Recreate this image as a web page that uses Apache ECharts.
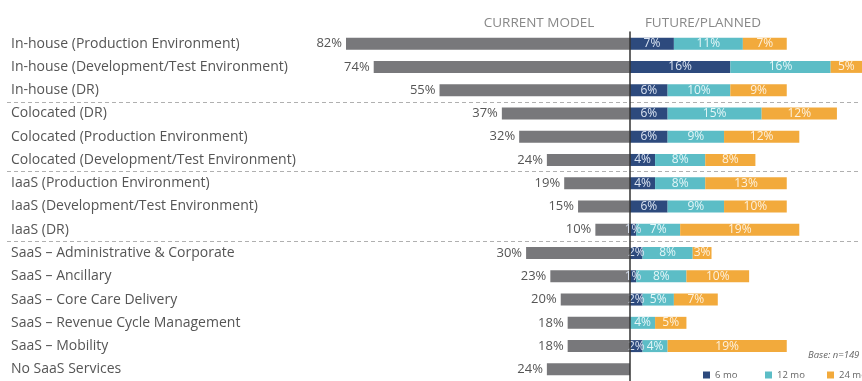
<!DOCTYPE html>
<html>
<head>
<meta charset="utf-8">
<script src="https://cdn.jsdelivr.net/npm/echarts@6/dist/echarts.min.js"></script>
<style>
  html, body { margin: 0; padding: 0; background: #fff; }
  #chart { width: 862px; height: 381px; }
</style>
</head>
<body>
<div id="chart"></div>
<script>
// Hosting models: current share vs. planned adoption horizon
const categories = [
  'In-house (Production Environment)',
  'In-house (Development/Test Environment)',
  'In-house (DR)',
  'Colocated (DR)',
  'Colocated (Production Environment)',
  'Colocated (Development/Test Environment)',
  'IaaS (Production Environment)',
  'IaaS (Development/Test Environment)',
  'IaaS (DR)',
  'SaaS \u2013 Administrative & Corporate',
  'SaaS \u2013 Ancillary',
  'SaaS \u2013 Core Care Delivery',
  'SaaS \u2013 Revenue Cycle Management',
  'SaaS \u2013 Mobility',
  'No SaaS Services'
];
const currentModel = [82, 74, 55, 37, 32, 24, 19, 15, 10, 30, 23, 20, 18, 18, 24];
const plan6mo  = [7, 16, 6, 6, 6, 4, 4, 6, 1, 2, 1, 2, 0, 2, 0];
const plan12mo = [11, 16, 10, 15, 9, 8, 8, 9, 7, 8, 8, 5, 4, 4, 0];
const plan24mo = [7, 5, 9, 12, 12, 8, 13, 10, 19, 3, 10, 7, 5, 19, 0];
const seriesNames = ['6 mo', '12 mo', '24 mo'];
const groupBreaks = [3, 6, 9];

const FONT = 'Open Sans';
const chart = echarts.init(document.getElementById('chart'), null, { renderer: 'canvas' });

function segLabel(color) {
  return {
    show: true,
    position: 'inside',
    color: color,
    fontFamily: FONT,
    fontSize: 12,
    formatter: p => (p.value ? p.value + '%' : '')
  };
}

// one legend block per horizon, evenly spaced along the bottom right
const legendLefts = [698, 760, 822];
const legends = seriesNames.map((name, i) => ({
  data: [name],
  left: legendLefts[i],
  top: 365,
  icon: 'rect',
  itemWidth: 7,
  itemHeight: 7,
  textStyle: { fontFamily: FONT, fontSize: 9.5, color: '#666' }
}));

const option = {
  animation: false,
  backgroundColor: '#fff',
  title: [
    { text: 'CURRENT MODEL', left: 534, top: 11, textAlign: 'center',
      textStyle: { fontFamily: FONT, fontSize: 13.5, fontWeight: 'normal', color: '#888' } },
    { text: 'FUTURE/PLANNED', left: 698, top: 11, textAlign: 'center',
      textStyle: { fontFamily: FONT, fontSize: 13.5, fontWeight: 'normal', color: '#888' } },
    { text: 'Base: n=149', left: 803, top: 345,
      textStyle: { fontFamily: FONT, fontSize: 9.5, fontStyle: 'italic', fontWeight: 'normal', color: '#666' } }
  ],
  legend: legends,
  grid: [
    { left: 7, right: 4, top: 32, bottom: 0 },
    { left: 346, width: 284, top: 32, bottom: 0 },
    { left: 630, right: 0, top: 32, bottom: 0 }
  ],
  xAxis: [
    { gridIndex: 0, type: 'value', min: 0, max: 1, show: false },
    { gridIndex: 1, type: 'value', min: 0, max: 82, inverse: true, show: false },
    { gridIndex: 2, type: 'value', min: 0, max: 37, show: false }
  ],
  yAxis: [
    {
      gridIndex: 0, type: 'category', data: categories, inverse: true,
      axisLine: { show: false }, axisTick: { show: false },
      axisLabel: { inside: true, margin: 4, fontFamily: FONT, fontSize: 14, color: '#555' },
      splitLine: {
        show: true,
        interval: (i) => groupBreaks.indexOf(i) !== -1,
        lineStyle: { type: [4, 3], color: '#b0b0b0', width: 1 }
      }
    },
    { gridIndex: 1, type: 'category', data: categories, inverse: true, show: false },
    {
      gridIndex: 2, type: 'category', data: categories, inverse: true, z: 5,
      axisLine: { show: true, lineStyle: { color: '#333', width: 1.5 } },
      axisTick: { show: false }, axisLabel: { show: false }, splitLine: { show: false }
    }
  ],
  series: [
    {
      name: 'Current model', type: 'bar', xAxisIndex: 1, yAxisIndex: 1,
      data: currentModel, barWidth: 12,
      itemStyle: { color: '#78787b' },
      label: { show: true, position: 'left', distance: 4, fontFamily: FONT, fontSize: 13, color: '#555',
               formatter: p => p.value + '%' }
    },
    {
      name: seriesNames[0], type: 'bar', stack: 'plan', xAxisIndex: 2, yAxisIndex: 2,
      data: plan6mo, barWidth: 12,
      itemStyle: { color: '#2d4a7d' }, label: segLabel('#dbe4f2')
    },
    {
      name: seriesNames[1], type: 'bar', stack: 'plan', xAxisIndex: 2, yAxisIndex: 2,
      data: plan12mo, barWidth: 12,
      itemStyle: { color: '#5cbdc6' }, label: segLabel('#e4f6f8')
    },
    {
      name: seriesNames[2], type: 'bar', stack: 'plan', xAxisIndex: 2, yAxisIndex: 2,
      data: plan24mo, barWidth: 12,
      itemStyle: { color: '#f2aa3c' }, label: segLabel('#fdf1de')
    }
  ]
};
chart.setOption(option);
</script>
</body>
</html>
